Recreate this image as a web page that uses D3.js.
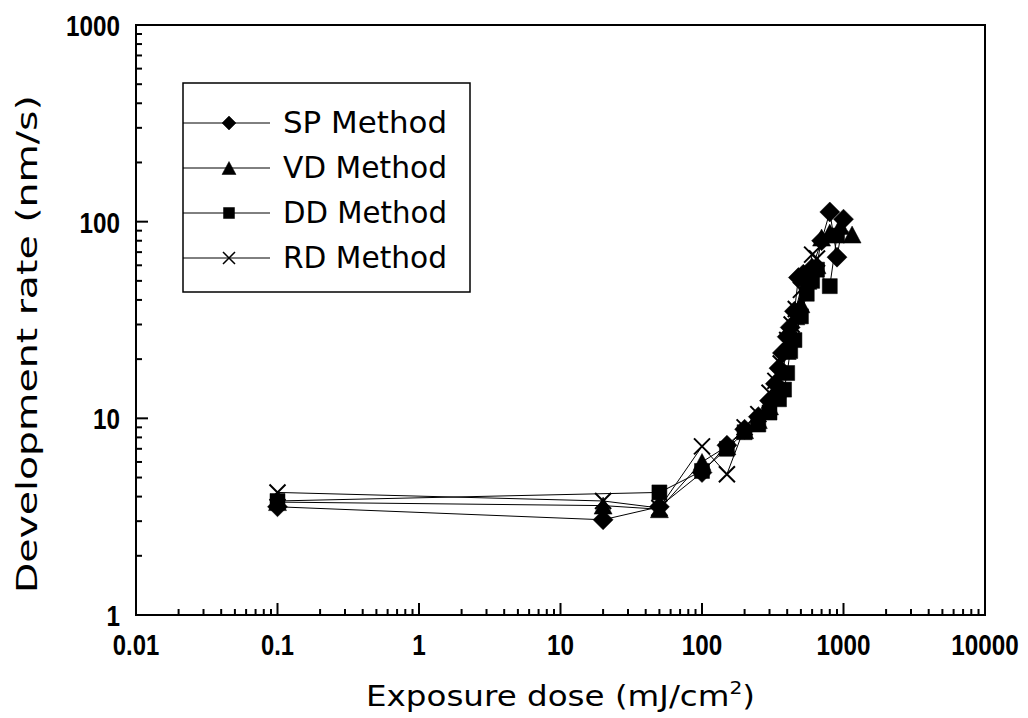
<!DOCTYPE html>
<html>
<head>
<meta charset="utf-8">
<script src="https://cdn.jsdelivr.net/npm/d3@7"></script>
<style>
  body { margin: 0; background: #fff; }
  text { font-family: "DejaVu Sans", "Liberation Sans", sans-serif; fill: #000; }
  .tick-label { font-family: "Liberation Sans", "DejaVu Sans", sans-serif; font-size: 30px; font-weight: bold; }
  .series-line { fill: none; stroke: #000; stroke-width: 1; }
  .frame { fill: none; stroke: #000; stroke-width: 2; }
</style>
</head>
<body>
<div id="wrapper"></div>
<script>
// Data (dose in mJ/cm2, rate in nm/s)
const spDose = [0.1, 20, 50, 100, 150, 200, 250, 300, 330, 350, 370, 400, 420, 450, 480, 520, 600, 700, 800, 900, 1000];
const spRate = [3.55, 3.05, 3.55, 5.3, 7.3, 8.8, 10.2, 12.3, 15, 18, 21.5, 26, 29, 35, 52, 54, 58, 80, 112, 66, 103];

const vdDose = [0.1, 20, 50, 100, 150, 200, 250, 300, 340, 370, 400, 430, 460, 500, 560, 650, 700, 800, 950, 1150];
const vdRate = [3.75, 3.6, 3.45, 6.0, 7.2, 8.7, 9.8, 11.5, 14, 17.5, 22, 27, 33, 38, 50, 60, 83, 88, 95, 86];

const ddDose = [0.1, 50, 100, 150, 200, 250, 300, 350, 380, 400, 420, 450, 500, 550, 600, 650, 800, 900];
const ddRate = [3.8, 4.2, 5.4, 7.0, 8.5, 9.3, 10.7, 12.5, 14, 17, 22, 25, 33, 43, 50, 57, 47, 85];

const rdDose = [0.1, 20, 50, 100, 150, 200, 250, 300, 330, 360, 400, 430, 460, 500, 560, 600, 650];
const rdRate = [4.2, 3.8, 3.5, 7.2, 5.2, 9.0, 10.5, 13.5, 15.5, 19, 25, 30, 36, 45, 52, 68, 65];

const seriesNames = ["SP Method", "VD Method", "DD Method", "RD Method"];
const seriesShapes = ["diamond", "triangle", "square", "cross"];

const xTickValues = [0.01, 0.1, 1, 10, 100, 1000, 10000];
const xTickLabels = ["0.01", "0.1", "1", "10", "100", "1000", "10000"];
const yTickValues = [1, 10, 100, 1000];
const yTickLabels = ["1", "10", "100", "1000"];

async function drawChart() {

  // 1. Access data
  const series = [
    [spDose, spRate],
    [vdDose, vdRate],
    [ddDose, ddRate],
    [rdDose, rdRate],
  ].map(([xs, ys], i) => ({
    name: seriesNames[i],
    shape: seriesShapes[i],
    points: xs.map((x, j) => ({ x, y: ys[j] })),
  }));

  // 2. Create chart dimensions
  const dimensions = {
    width: 1028,
    height: 718,
    margin: { top: 25, right: 43, bottom: 103, left: 136 },
  };
  dimensions.boundedWidth = dimensions.width - dimensions.margin.left - dimensions.margin.right;
  dimensions.boundedHeight = dimensions.height - dimensions.margin.top - dimensions.margin.bottom;

  // 3. Draw canvas
  const wrapper = d3.select("#wrapper")
    .append("svg")
      .attr("width", dimensions.width)
      .attr("height", dimensions.height);

  const bounds = wrapper.append("g")
      .attr("transform", `translate(${dimensions.margin.left}, ${dimensions.margin.top})`);

  // 4. Create scales
  const xScale = d3.scaleLog()
    .domain([0.01, 10000])
    .range([0, dimensions.boundedWidth]);
  const yScale = d3.scaleLog()
    .domain([1, 1000])
    .range([dimensions.boundedHeight, 0]);

  // minor ticks: 2..9 within every decade
  const minorTicks = (lo, hi) => d3.merge(
    d3.range(Math.log10(lo), Math.log10(hi)).map(e => d3.range(2, 10).map(m => m * Math.pow(10, e)))
  );

  // condensed digits like the original font
  const labelLength = str => str.replace(/\./g, "").length * 13.5 + (str.includes(".") ? 6 : 0);

  // 5. Draw data
  const symbolPath = (shape, big) => {
    const r = big ? 10 : 7;
    if (shape === "diamond") return `M0,${-r}L${r},0L0,${r}L${-r},0Z`;
    if (shape === "triangle") {
      const w = big ? 9 : 7, h = big ? 8.5 : 6.5;
      return `M0,${-h}L${w},${h}L${-w},${h}Z`;
    }
    if (shape === "square") {
      const s = big ? 7.5 : 5.5;
      return `M${-s},${-s}H${s}V${s}H${-s}Z`;
    }
    const c = big ? 8 : 6;
    return `M${-c},${-c}L${c},${c}M${-c},${c}L${c},${-c}`;
  };

  const lineGenerator = d3.line()
    .x(d => xScale(d.x))
    .y(d => yScale(d.y));

  const plot = bounds.append("g");
  plot.selectAll(".series-line")
    .data(series)
    .join("path")
      .attr("class", "series-line")
      .attr("d", d => lineGenerator(d.points));

  series.forEach(s => {
    plot.append("g").selectAll("path")
      .data(s.points)
      .join("path")
        .attr("d", symbolPath(s.shape, true))
        .attr("transform", d => `translate(${xScale(d.x)}, ${yScale(d.y)})`)
        .attr("fill", s.shape === "cross" ? "none" : "#000")
        .attr("stroke", "#000")
        .attr("stroke-width", s.shape === "cross" ? 2 : 0.5);
  });

  // 6. Draw peripherals
  bounds.append("rect")
      .attr("class", "frame")
      .attr("width", dimensions.boundedWidth)
      .attr("height", dimensions.boundedHeight);

  const ticksGroup = bounds.append("g").attr("stroke", "#000").attr("stroke-width", 2);
  ticksGroup.selectAll(".x-major")
    .data(xTickValues)
    .join("line")
      .attr("x1", d => xScale(d)).attr("x2", d => xScale(d))
      .attr("y1", dimensions.boundedHeight).attr("y2", dimensions.boundedHeight - 12);
  ticksGroup.selectAll(".x-minor")
    .data(minorTicks(0.01, 10000))
    .join("line")
      .attr("x1", d => xScale(d)).attr("x2", d => xScale(d))
      .attr("y1", dimensions.boundedHeight).attr("y2", dimensions.boundedHeight - 6);
  ticksGroup.selectAll(".y-major")
    .data(yTickValues)
    .join("line")
      .attr("x1", 0).attr("x2", 12)
      .attr("y1", d => yScale(d)).attr("y2", d => yScale(d));
  ticksGroup.selectAll(".y-minor")
    .data(minorTicks(1, 1000))
    .join("line")
      .attr("x1", 0).attr("x2", 6)
      .attr("y1", d => yScale(d)).attr("y2", d => yScale(d));

  bounds.append("g").selectAll("text")
    .data(xTickValues)
    .join("text")
      .attr("class", "tick-label")
      .attr("x", d => xScale(d))
      .attr("y", dimensions.boundedHeight + 40)
      .attr("text-anchor", "middle")
      .attr("textLength", (_d, i) => labelLength(xTickLabels[i]))
      .attr("lengthAdjust", "spacingAndGlyphs")
      .text((_d, i) => xTickLabels[i]);

  bounds.append("g").selectAll("text")
    .data(yTickValues)
    .join("text")
      .attr("class", "tick-label")
      .attr("x", -16)
      .attr("y", d => yScale(d) + 11)
      .attr("text-anchor", "end")
      .attr("textLength", (_d, i) => labelLength(yTickLabels[i]))
      .attr("lengthAdjust", "spacingAndGlyphs")
      .text((_d, i) => yTickLabels[i]);

  const xTitle = wrapper.append("text")
      .attr("x", 366)
      .attr("y", 706)
      .attr("textLength", 389)
      .attr("lengthAdjust", "spacingAndGlyphs")
      .style("font-size", "29px");
  xTitle.append("tspan").text("Exposure dose (mJ/cm");
  xTitle.append("tspan").attr("dy", -12).style("font-size", "18px").text("2");
  xTitle.append("tspan").attr("dy", 12).text(")");

  wrapper.append("text")
      .attr("transform", "translate(37, 593) rotate(-90)")
      .attr("textLength", 498)
      .attr("lengthAdjust", "spacingAndGlyphs")
      .style("font-size", "29px")
      .text("Development rate (nm/s)");

  // legend
  const legend = wrapper.append("g");
  legend.append("rect")
      .attr("x", 183).attr("y", 83)
      .attr("width", 287).attr("height", 209)
      .attr("fill", "#fff")
      .attr("stroke", "#000")
      .attr("stroke-width", 1.5);
  const legendRows = legend.selectAll(".legend-row")
    .data(series)
    .join("g")
      .attr("class", "legend-row")
      .attr("transform", (_d, i) => `translate(183, ${123 + i * 45})`);
  legendRows.append("line")
      .attr("x1", 0).attr("x2", 87)
      .attr("stroke", "#000").attr("stroke-width", 1);
  legendRows.append("path")
      .attr("transform", "translate(46, 0)")
      .attr("d", d => symbolPath(d.shape, false))
      .attr("fill", d => d.shape === "cross" ? "#fff" : "#000")
      .attr("stroke", "#000")
      .attr("stroke-width", d => d.shape === "cross" ? 1.5 : 0.5);
  legendRows.append("text")
      .attr("x", 100)
      .attr("y", 10)
      .attr("textLength", 164)
      .attr("lengthAdjust", "spacingAndGlyphs")
      .style("font-size", "30px")
      .text(d => d.name);
}
drawChart();
</script>
</body>
</html>
